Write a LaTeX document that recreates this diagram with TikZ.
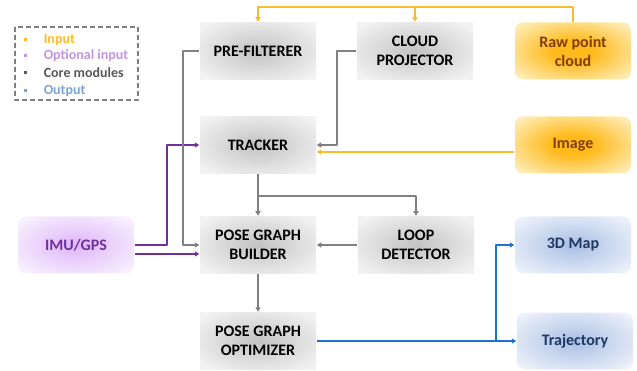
\documentclass[tikz,border=0pt]{standalone}
\usepackage{fontspec}
\setmainfont{Carlito}
\usetikzlibrary{arrows.meta}

% ── 颜色 ──
\definecolor{inLine}{RGB}{250,188,45}
\definecolor{optLine}{RGB}{112,48,160}
\definecolor{coreLine}{RGB}{128,128,128}
\definecolor{outLine}{RGB}{30,115,200}
\definecolor{coreIn}{RGB}{195,195,195}
\definecolor{coreOut}{RGB}{242,242,242}
\definecolor{inIn}{RGB}{255,186,28}
\definecolor{inOut}{RGB}{255,236,180}
\definecolor{inText}{RGB}{132,60,12}
\definecolor{optIn}{RGB}{222,182,250}
\definecolor{optOut}{RGB}{248,240,254}
\definecolor{outIn}{RGB}{170,191,228}
\definecolor{outOut}{RGB}{236,241,250}
\definecolor{outText}{RGB}{31,56,100}

% ── 径向渐变：路径外框对应 25bp 半径，中心深、四周浅 ──
\pgfdeclareradialshading{coreglow}{\pgfpoint{0bp}{0bp}}{color(0bp)=(coreIn); color(32bp)=(coreOut); color(50bp)=(coreOut)}
\pgfdeclareradialshading{inglow}{\pgfpoint{0bp}{0bp}}{color(0bp)=(inIn); color(9bp)=(inIn); color(32bp)=(inOut); color(50bp)=(inOut)}
\pgfdeclareradialshading{optglow}{\pgfpoint{0bp}{0bp}}{color(0bp)=(optIn); color(32bp)=(optOut); color(50bp)=(optOut)}
\pgfdeclareradialshading{outglow}{\pgfpoint{0bp}{0bp}}{color(0bp)=(outIn); color(32bp)=(outOut); color(50bp)=(outOut)}

\begin{document}
\begin{tikzpicture}[x=1pt, y=-1pt, line width=1.5pt, line join=round,
  box/.style={minimum width=116pt, minimum height=57pt, inner sep=0pt, align=center,
    font=\fontsize{16}{19}\selectfont\bfseries},
  core/.style={box, shading=coreglow, text=black},
  src/.style={box, rounded corners=8pt, shading=inglow, text=inText},
  opt/.style={box, rounded corners=8pt, shading=optglow, text=optLine},
  res/.style={box, rounded corners=8pt, shading=outglow, text=outText},
  legend/.style={anchor=west, inner sep=0pt, font=\fontsize{14}{16}\selectfont\bfseries}]
  \def\arr{-{Triangle[width=5pt,length=4.5pt]}}

  % ── 图例 ──
  \draw[coreLine, dash pattern=on 5pt off 3pt] (15,27) rectangle (138,100);
  \foreach \y/\c/\t [count=\i] in {40/inLine/Input, 56/optIn!75!optLine/Optional input,
      73/black!65/Core modules, 91/outIn!65!outLine/Output} {
    \fill[\c] (23.5,\y-2) rectangle ++(3.5,3.5);
    \node[legend, text=\c] (key\i) at (43,\y) {\t};
  }

  % ── 模块 ──
  \node[core] (pre)   at (258,51)  {PRE-FILTERER};
  \node[core] (cloud) at (415,51)  {CLOUD\\PROJECTOR};
  \node[src]  (raw)   at (573,51)  {Raw point\\cloud};
  \node[core] (trk)   at (258,145) {TRACKER};
  \node[src]  (img)   at (573,145) {Image};
  \node[opt]  (imu)   at (76,245)  {IMU/GPS};
  \node[core] (build) at (258,245) {POSE GRAPH\\BUILDER};
  \node[core] (loop)  at (416,245) {LOOP\\DETECTOR};
  \node[res]  (map)   at (573,245) {3D Map};
  \node[core] (optm)  at (258,341) {POSE GRAPH\\OPTIMIZER};
  \node[res]  (traj)  at (575,341) {Trajectory};

  % ── 点云：顶上一条横线分给两个模块 ──
  \coordinate (cloudtop) at (573,7);
  \draw[inLine, \arr] (raw.north) -- (cloudtop) -| (pre.north);
  \draw[inLine, \arr] (cloudtop -| cloud.north) -- (cloud.north);
  \draw[inLine, \arr] ([yshift=-7pt]img.west) -- ([yshift=-7pt]trk.east);

  % ── IMU/GPS ──
  \draw[optLine, \arr] (imu.east) -- (167,245) |- (trk.west);
  \draw[optLine, \arr] ([yshift=-9pt]imu.east) -- ([yshift=-9pt]build.west);

  % ── 核心模块之间 ──
  \draw[coreLine, \arr] (pre.west) -- (183,51) |- (build.west);
  \draw[coreLine, \arr] (cloud.west) -- (337,51) |- (trk.east);
  \draw[coreLine, \arr] (trk.south) -- (build.north);
  \coordinate (split) at (258,196);
  \draw[coreLine, \arr] (split) -| (loop.north);
  \draw[coreLine, \arr] (loop.west) -- (build.east);
  \draw[coreLine, \arr] (build.south) -- (optm.north);

  % ── 输出 ──
  \draw[outLine, \arr] (optm.east) -- (traj.west);
  \draw[outLine, \arr] (496,341) |- (map.west);

  \path[use as bounding box] (0,0) rectangle (637,371);
\end{tikzpicture}
\end{document}
